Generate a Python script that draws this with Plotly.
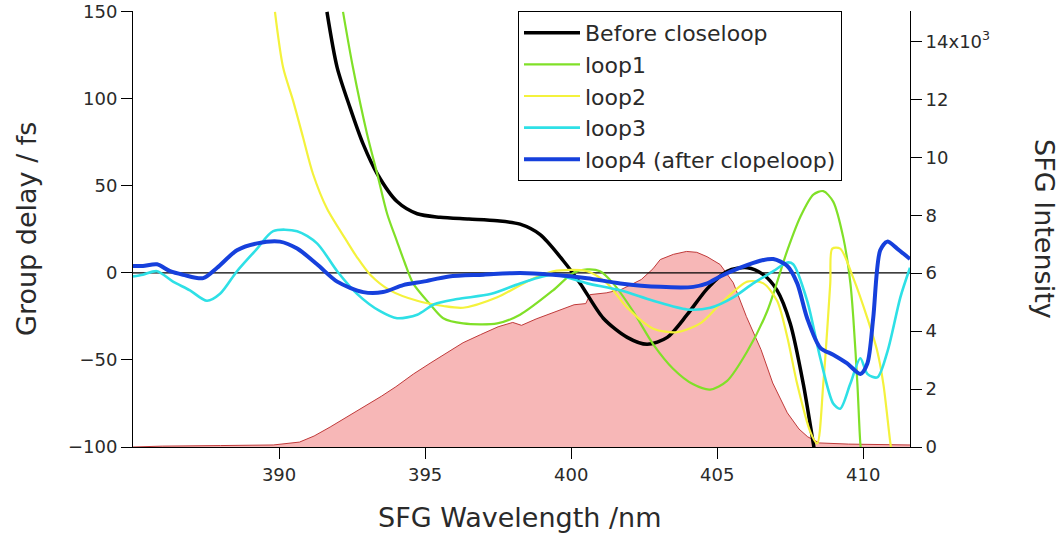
import plotly.graph_objects as go

# ---- SFG spectrum (right axis, counts) ----
spec_wl = [385.0, 386.0, 388.0, 389.8, 390.7, 391.2, 391.75, 392.3, 392.9, 393.5,
           394.0, 394.6, 395.2, 395.8, 396.3, 396.9, 397.5, 398.0, 398.3, 398.8,
           399.4, 400.1, 400.5, 400.65, 401.2, 401.7, 402.4, 402.8, 403.05, 403.5,
           403.95, 404.3, 404.65, 405.1, 405.55, 406.0, 406.5, 406.9, 407.4, 407.8,
           408.1, 408.5, 409.5, 411.6]
spec_int = [0, 30, 50, 70, 170, 380, 690, 1020, 1380, 1750,
            2080, 2520, 2910, 3300, 3600, 3880, 4150, 4300, 4200, 4420,
            4640, 4910, 4950, 5260, 5320, 5430, 5780, 6150, 6470, 6650,
            6750, 6720, 6570, 6300, 5670, 4500, 3360, 2210, 1180, 620,
            350, 140, 100, 70]

# ---- group delay curves (left axis, fs) ----
before_wl = [391.64, 391.99, 392.43, 392.88, 393.36, 394.04, 394.73, 395.51, 396.5, 397.47,
             398.25, 398.94, 399.73, 400.31, 401.10, 401.92, 402.60, 403.29, 403.97, 404.66,
             405.34, 406.03, 406.58, 407.05, 407.50, 407.95, 408.29, 408.39]
before_gd = [150, 118, 95, 74, 57, 41, 34, 32, 31, 30,
             28, 22, 7, -6, -26, -37, -41, -37, -24, -9,
             1, 3, -1, -10, -29, -64, -98, -108]

loop1_wl = [392.19, 392.53, 393.01, 393.36, 393.70, 394.04, 394.30, 394.59, 395.17, 395.62,
            396.30, 397.47, 398.25, 399.38, 400.07, 400.55, 400.99, 401.44, 402.12, 402.81,
            403.49, 404.18, 404.76, 405.34, 406.03, 406.71, 407.40, 407.84, 408.29, 408.63,
            408.97, 409.32, 409.56, 409.66, 409.80, 409.90, 409.95]
loop1_gd = [150, 118, 80, 57, 34, 18, 6, -6, -18, -26,
            -29, -29, -24, -10, 0, 2, 1, -6, -22, -41,
            -55, -64, -67, -62, -45, -22, 13, 32, 45, 47,
            41, 20, -6, -26, -64, -98, -105]

loop2_wl = [389.86, 390.14, 390.48, 390.82, 391.16, 391.64, 392.33, 392.67, 393.12, 393.80,
            394.73, 395.62, 396.30, 397.47, 398.60, 399.38, 400.55, 401.23, 401.92, 402.81,
            403.63, 404.42, 405.10, 406.03, 406.58, 407.05, 407.40, 407.74, 408.18, 408.42,
            408.63, 408.87, 408.94, 409.21, 409.66, 410.14, 410.48, 410.69, 410.93, 411.0]
loop2_gd = [150, 118, 99, 78, 57, 37, 18, 9, -1, -10,
            -16, -19, -20, -14, -4, 1, 1, -6, -20, -32,
            -34, -29, -18, -5, -6, -16, -37, -64, -91, -98,
            -64, -6, 14, 14, -3, -26, -45, -64, -98, -105]

loop3_wl = [385.0, 385.34, 385.82, 386.37, 386.95, 387.53, 387.98, 388.56, 389.25, 389.80,
            390.62, 391.30, 391.99, 392.67, 393.46, 394.04, 394.73, 395.31, 396.10, 397.27,
            398.25, 399.38, 400.55, 401.68, 402.81, 403.97, 404.76, 405.55, 406.23, 406.92,
            407.40, 407.60, 408.08, 408.53, 408.97, 409.21, 409.55, 409.90, 410.14, 410.48,
            410.83, 411.27, 411.6]
loop3_gd = [-2, -1, 1, -5, -10, -16, -12, 1, 14, 24,
            24, 17, 1, -12, -22, -26, -24, -18, -15, -12,
            -6, -1, -6, -10, -16, -21, -20, -14, -6, 1,
            6, 5, -16, -49, -75, -78, -64, -49, -58, -60,
            -45, -14, 3]

loop4_wl = [385.0, 385.34, 385.82, 386.27, 386.71, 387.40, 387.88, 388.56, 389.25, 390.03,
            390.62, 391.30, 391.99, 392.88, 393.56, 394.25, 394.93, 395.82, 397.0, 398.25,
            399.38, 400.55, 401.68, 403.05, 404.18, 404.66, 405.10, 405.79, 406.47, 406.92,
            407.40, 407.74, 408.08, 408.53, 408.97, 409.45, 409.90, 410.14, 410.34, 410.58,
            410.82, 411.16, 411.6]
loop4_gd = [4, 4, 5, 1, -1, -3, 3, 13, 17, 18,
            14, 5, -5, -11, -11, -7, -5, -2, -1, 0,
            -1, -3, -6, -8, -8, -6, -2, 3, 7, 8,
            4, -6, -26, -43, -47, -52, -58, -52, -26, 13,
            18, 14, 8]

x_range = [385.0, 411.6]
gd_range = [-100, 150.5]
int_range = [0, 15050]
int_ticks = [0, 2000, 4000, 6000, 8000, 10000, 12000, 14000]
int_ticktext = ["0", "2", "4", "6", "8", "10", "12", "14x10<sup>3</sup>"]
gd_ticks = [-100, -50, 0, 50, 100, 150]
wl_ticks = [390, 395, 400, 405, 410]

FONT = "DejaVu Sans"
TEXT = "#2a2a2a"

fig = go.Figure()

# spectrum on the primary (right-hand) axis so the delay curves are drawn over it
fig.add_trace(go.Scatter(
    x=spec_wl, y=spec_int, mode="lines", fill="tozeroy",
    fillcolor="#f7b7b7", line=dict(color="#c03a3a", width=1),
    showlegend=False, yaxis="y", hoverinfo="skip"))

# zero reference line of the delay axis
fig.add_trace(go.Scatter(
    x=x_range, y=[0, 0], mode="lines", line=dict(color="black", width=1.2),
    showlegend=False, yaxis="y2", hoverinfo="skip"))

series = [
    ("Before closeloop", before_wl, before_gd, "#000000", 3.5),
    ("loop1", loop1_wl, loop1_gd, "#80e028", 2.2),
    ("loop2", loop2_wl, loop2_gd, "#f4f23c", 2.2),
    ("loop3", loop3_wl, loop3_gd, "#2ee0e6", 2.6),
    ("loop4 (after clopeloop)", loop4_wl, loop4_gd, "#1640dc", 4),
]
for name, xs, ys, col, w in series:
    fig.add_trace(go.Scatter(
        x=xs, y=ys, mode="lines", name=name, yaxis="y2",
        line=dict(color=col, width=w, shape="spline", smoothing=0.8)))

axis_common = dict(
    showgrid=False, zeroline=False, showline=True, linecolor="black", linewidth=1,
    ticks="outside", ticklen=11, tickcolor="black", tickwidth=1, automargin=False,
    tickfont=dict(family=FONT, size=18, color=TEXT),
)

title_font = dict(family=FONT, size=27, color=TEXT)

fig.update_layout(
    width=1064, height=541,
    margin=dict(l=133, r=154, t=11, b=94, autoexpand=False),
    paper_bgcolor="white", plot_bgcolor="white",
    font=dict(family=FONT, color=TEXT),
    xaxis=dict(range=x_range, tickvals=wl_ticks, **axis_common),
    yaxis=dict(range=int_range, side="right", tickvals=int_ticks, ticktext=int_ticktext,
               **axis_common),
    yaxis2=dict(range=gd_range, side="left", overlaying="y", tickvals=gd_ticks,
                tickformat="d", **axis_common),
    legend=dict(x=0.4955, y=1.0, xanchor="left", yanchor="top",
                bgcolor="white", bordercolor="black", borderwidth=1,
                font=dict(family=FONT, size=22, color=TEXT),
                itemwidth=56, tracegroupgap=0),
    annotations=[
        dict(text="SFG Wavelength /nm", xref="paper", yref="paper", x=0.498, y=-0.161,
             xanchor="center", yanchor="middle", showarrow=False, font=title_font),
        dict(text="Group delay / fs", xref="paper", yref="paper", x=-0.1377, y=0.5,
             xanchor="center", yanchor="middle", textangle=-90, showarrow=False,
             font=title_font),
        dict(text="SFG Intensity", xref="paper", yref="paper", x=1.1737, y=0.5,
             xanchor="center", yanchor="middle", textangle=90, showarrow=False,
             font=title_font),
    ],
)

fig.write_html("out.html")
